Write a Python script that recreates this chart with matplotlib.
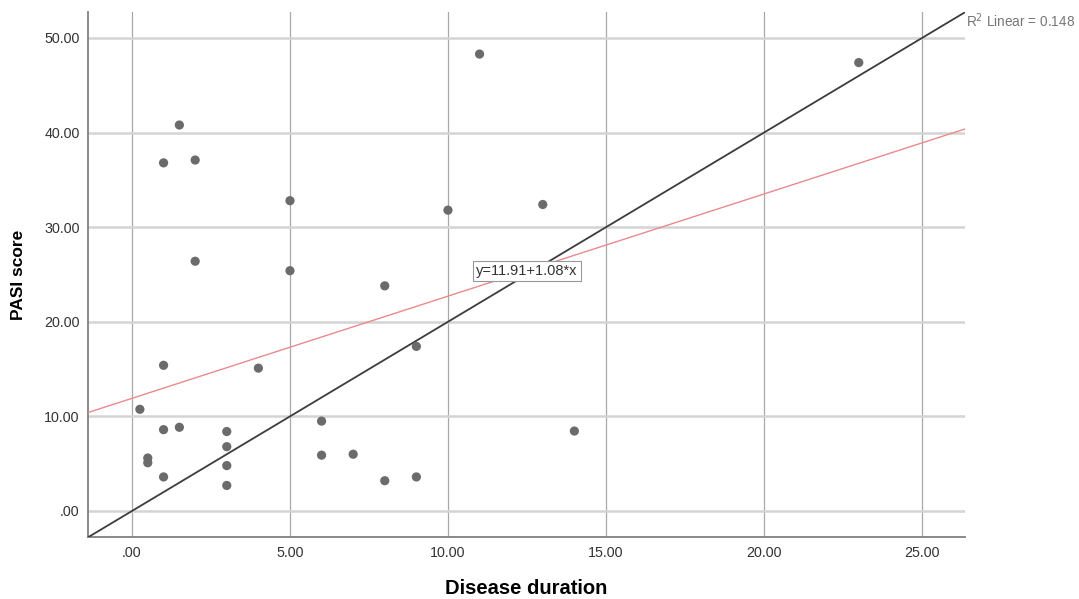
import matplotlib
matplotlib.use("Agg")
import matplotlib.pyplot as plt
import numpy as np

plt.rcParams['font.family'] = ['Liberation Sans', 'DejaVu Sans']

# Data
duration = [1, 1.5, 2, 2, 5, 5, 8, 10, 11, 13, 23,
            1, 4, 9, 0.25, 1, 1.5, 3, 3, 3, 3,
            0.5, 0.5, 1, 6, 6, 7, 8, 9, 14]
pasi = [36.8, 40.8, 37.1, 26.4, 32.8, 25.4, 23.8, 31.8, 48.3, 32.4, 47.4,
        15.4, 15.1, 17.4, 10.75, 8.6, 8.85, 8.4, 6.8, 4.8, 2.7,
        5.6, 5.1, 3.6, 9.5, 5.9, 6.0, 3.2, 3.6, 8.45]

fit_intercept = 11.91
fit_slope = 1.08
ref_slope = 2.0
r2_text = "R$^2$ Linear = 0.148"
eq_text = "y=11.91+1.08*x"

x_ticks = [0, 5, 10, 15, 20, 25]
x_ticklabels = [".00", "5.00", "10.00", "15.00", "20.00", "25.00"]
y_ticks = [0, 10, 20, 30, 40, 50]
y_ticklabels = [".00", "10.00", "20.00", "30.00", "40.00", "50.00"]

fig = plt.figure(figsize=(10.79, 5.99), dpi=100)
ax = fig.add_axes([0.0816, 0.1035, 0.8127, 0.8765])
xmin, xmax = -1.39, 26.36
ymin, ymax = -2.75, 52.75
ax.set_xlim(xmin, xmax)
ax.set_ylim(ymin, ymax)

for xt in x_ticks:
    ax.axvline(xt, color='#a8a8a8', lw=0.9, zorder=1)
for yt in y_ticks:
    ax.axhline(yt, color='#d4d4d4', lw=1.8, zorder=1)

xs = np.array([xmin, xmax])
ax.plot(xs, ref_slope * xs, color='#3c3c3c', lw=1.3, zorder=3)
ax.plot(xs, fit_intercept + fit_slope * xs, color='#e98a8f', lw=1.0, zorder=3)

ax.scatter(duration, pasi, s=44, color='#6b6b6b', edgecolors='none', zorder=4)

ax.text(12.5, 25.35, eq_text, fontsize=10.5, color='#333333', ha='center', va='center',
        bbox=dict(boxstyle='square,pad=0.2', facecolor='white', edgecolor='#999999', lw=0.8),
        zorder=5)

fig.text(0.8955, 0.966, r2_text, fontsize=9.8, color='#777777', ha='left', va='center')

ax.set_xticks(x_ticks)
ax.set_xticklabels(x_ticklabels)
ax.set_yticks(y_ticks)
ax.set_yticklabels(y_ticklabels)
ax.tick_params(length=0, labelsize=10.3, labelcolor='#333333')
ax.tick_params(axis='y', pad=6)
ax.tick_params(axis='x', pad=6.5)

for s in ['top', 'right']:
    ax.spines[s].set_visible(False)
for s in ['left', 'bottom']:
    ax.spines[s].set_color('#808080')
    ax.spines[s].set_linewidth(1.3)

ax.set_xlabel("Disease duration", fontsize=14.5, fontweight='bold', labelpad=14)
ax.set_ylabel("PASI score", fontsize=12.5, fontweight='bold', labelpad=13)

fig.savefig("out.png", dpi=100)
